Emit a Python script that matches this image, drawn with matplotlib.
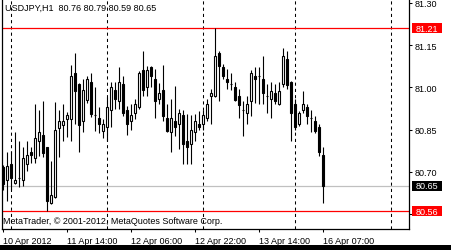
import matplotlib
matplotlib.use("Agg")
import matplotlib.pyplot as plt
from matplotlib.patches import Rectangle

plt.rcParams['font.family'] = ['Liberation Sans', 'DejaVu Sans']

# hourly USDJPY bars
opens = [80.717, 80.671, 80.727, 80.659, 80.677, 80.670, 80.727, 80.771, 80.748, 80.810,
         80.830, 80.787, 80.588, 80.610, 80.857, 80.868, 80.889, 80.889, 81.051, 81.012,
         80.880, 80.956, 81.018, 80.902, 80.890, 80.846, 80.858, 80.920, 80.991, 80.951,
         81.012, 80.920, 80.880, 80.908, 80.929, 81.062, 81.000, 81.074, 81.030, 80.959,
         80.991, 80.890, 80.841, 80.880, 80.870, 80.902, 80.811, 80.799, 80.841, 80.870,
         80.870, 80.890, 80.969, 80.969, 81.122, 81.074, 81.030, 81.012, 81.000, 80.971,
         80.920, 80.908, 80.951, 81.040, 81.040, 81.030, 80.971, 80.959, 80.980, 80.941,
         81.012, 81.101, 81.018, 80.941, 80.870, 80.920, 80.929, 80.890, 80.880, 80.858,
         80.76]
highs = [80.724, 80.770, 80.773, 80.843, 80.810, 80.789, 80.810, 80.789, 80.941, 80.920,
         80.952, 80.790, 80.740, 80.948, 80.920, 80.941, 80.913, 81.079, 81.122, 81.014,
         81.030, 81.042, 81.051, 81.000, 80.929, 80.888, 80.967, 81.018, 81.018, 81.072,
         81.040, 80.935, 80.941, 80.959, 81.060, 81.128, 81.077, 81.077, 81.065, 81.014,
         81.081, 80.941, 80.959, 81.004, 80.923, 80.920, 80.906, 80.903, 80.906, 80.917,
         80.920, 80.959, 80.994, 81.210, 81.130, 81.083, 81.065, 81.051, 81.018, 80.994,
         80.953, 80.971, 81.062, 81.074, 81.074, 81.111, 81.012, 81.018, 81.012, 81.018,
         81.140, 81.128, 81.022, 80.959, 80.917, 80.988, 80.941, 80.920, 80.900, 80.870,
         80.79]
lows = [80.636, 80.598, 80.637, 80.657, 80.647, 80.651, 80.704, 80.730, 80.730, 80.757,
        80.752, 80.560, 80.586, 80.608, 80.752, 80.809, 80.825, 80.809, 80.870, 80.770,
        80.841, 80.944, 80.896, 80.846, 80.837, 80.819, 80.811, 80.858, 80.923, 80.923,
        80.900, 80.831, 80.849, 80.888, 80.923, 80.971, 80.969, 81.000, 80.890, 80.941,
        80.881, 80.841, 80.770, 80.829, 80.781, 80.728, 80.728, 80.728, 80.809, 80.849,
        80.849, 80.880, 80.870, 80.965, 80.951, 81.030, 80.994, 80.991, 80.951, 80.891,
        80.829, 80.870, 80.900, 80.944, 80.941, 80.941, 80.908, 80.891, 80.941, 80.939,
        81.000, 80.994, 80.809, 80.849, 80.864, 80.908, 80.870, 80.841, 80.837, 80.757,
        80.59]
closes = [80.657, 80.720, 80.677, 80.670, 80.678, 80.748, 80.759, 80.759, 80.819, 80.841,
          80.768, 80.598, 80.617, 80.849, 80.880, 80.880, 80.901, 81.040, 80.988, 80.868,
          80.991, 81.030, 80.906, 80.902, 80.869, 80.870, 80.929, 81.000, 80.959, 81.018,
          80.908, 80.870, 80.902, 80.941, 81.051, 80.991, 81.062, 81.040, 80.951, 80.980,
          80.900, 80.846, 80.890, 80.858, 80.908, 80.799, 80.787, 80.849, 80.880, 80.858,
          80.902, 80.941, 80.980, 81.111, 81.077, 81.040, 81.018, 81.012, 80.956, 80.939,
          80.920, 80.941, 81.051, 81.030, 81.040, 80.980, 80.971, 80.988, 80.951, 80.988,
          81.111, 81.010, 80.908, 80.858, 80.908, 80.941, 80.900, 80.890, 80.846, 80.770,
          80.65]

header = "USDJPY,H1  80.76 80.79 80.59 80.65"
copyright_text = "MetaTrader, \u00a9 2001-2012, MetaQuotes Software Corp."
price_ticks = [80.55, 80.70, 80.85, 81.00, 81.15, 81.30]
price_labels = ["", "80.70", "80.85", "81.00", "81.15", "81.30"]  # 80.55 sits under the red box
time_ticks = [0, 16, 32, 48, 64, 80]
time_labels = ["10 Apr 2012", "11 Apr 14:00", "12 Apr 06:00",
               "12 Apr 22:00", "13 Apr 14:00", "16 Apr 07:00"]
day_starts = [2, 26, 50, 73, 97]
high_level = 81.21
low_level = 80.56
bid = 80.65

W, H = 451, 251
fig = plt.figure(figsize=(W / 100, H / 100), dpi=100)
fig.patch.set_facecolor("white")

def fx(x):
    return x / W

def fy(y):
    return 1 - y / H

ax = fig.add_axes([fx(2), fy(230), fx(407), 230 / H])
ax.set_xlim(-0.325, 101.425)
ax.set_ylim(80.4971, 81.3141)

# period separators
for d in day_starts:
    ax.axvline(d, color="black", lw=0.75, ls=(0, (3, 3)), zorder=1)

ax.axhline(high_level, color="red", lw=0.9, zorder=1)
ax.axhline(low_level, color="red", lw=0.9, zorder=1)
ax.axhline(bid, color="#c0c0c0", lw=0.9, zorder=1)

xs = list(range(len(opens)))
ax.vlines(xs, lows, highs, color="black", lw=0.8, zorder=2)
for i in xs:
    o, c = opens[i], closes[i]
    face = "white" if c >= o else "black"
    ax.bar(i, abs(c - o), width=0.5, bottom=min(o, c), color=face,
           edgecolor="black", linewidth=0.8, zorder=3)

ax.spines["top"].set_visible(False)
for side in ["left", "right", "bottom"]:
    ax.spines[side].set_linewidth(0.9)
    ax.spines[side].set_color("black")

ax.yaxis.tick_right()
ax.set_yticks(price_ticks)
ax.set_yticklabels(price_labels)
ax.tick_params(axis="y", length=2.5, width=0.75, pad=1.5, labelsize=6.5)
ax.set_xticks(time_ticks)
ax.set_xticklabels(time_labels, ha="left")
ax.tick_params(axis="x", length=2.5, width=0.75, pad=2.5, labelsize=6.5)

ax.text(0.007, 0.962, header, transform=ax.transAxes, fontsize=6.5,
        va="center", ha="left")
ax.text(0.002, 0.035, copyright_text, transform=ax.transAxes, fontsize=6.5,
        va="center", ha="left", zorder=5)

# price labels on the right scale
for level, col in [(high_level, "red"), (bid, "black"), (low_level, "red")]:
    yp = (81.3141 - level) / (81.3141 - 80.4971) * 230
    fig.patches.append(Rectangle((fx(412), fy(yp + 5)), fx(30), 10 / H,
                                 transform=fig.transFigure, facecolor=col,
                                 edgecolor="none", zorder=4))
    fig.text(fx(427), fy(yp), "%.2f" % level, color="white", fontsize=6.5,
             ha="center", va="center", zorder=5)

# dark strip at the bottom of the screenshot
fig.patches.append(Rectangle((0, 0), 1, 5 / H, transform=fig.transFigure,
                             facecolor="black", edgecolor="none", zorder=4))

fig.savefig("out.png", dpi=100)
